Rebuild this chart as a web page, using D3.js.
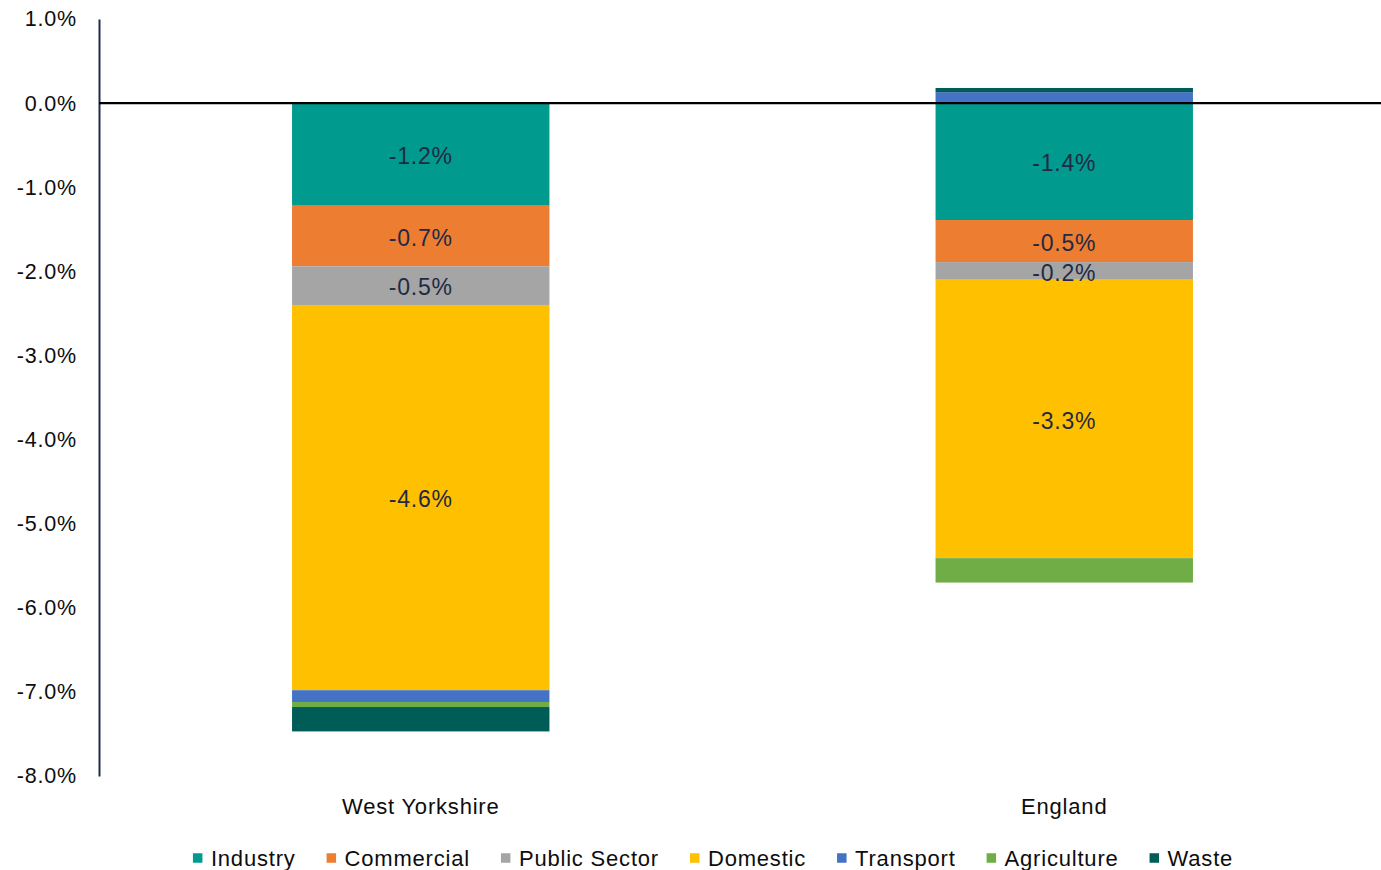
<!DOCTYPE html>
<html>
<head>
<meta charset="utf-8">
<script src="https://cdn.jsdelivr.net/npm/d3@7"></script>
<style>
  html, body { margin: 0; padding: 0; background: #fff; }
  svg text { font-family: "Liberation Sans", Arial, sans-serif; letter-spacing: 0.8px; }
</style>
</head>
<body>
<svg id="chart" width="1381" height="870"></svg>
<script>
// Change in emissions by sector, percentage points
const regions = ["West Yorkshire", "England"];
const sectors = ["Industry", "Commercial", "Public Sector", "Domestic", "Transport", "Agriculture", "Waste"];
const westYorkshire = [-1.22, -0.72, -0.46, -4.58, -0.14, -0.06, -0.29];
const england = [-1.39, -0.50, -0.21, -3.31, 0.13, -0.29, 0.05];
const labelledSectors = ["Industry", "Commercial", "Public Sector", "Domestic"];
const yTicks = [1, 0, -1, -2, -3, -4, -5, -6, -7, -8];
const colors = ["#009a8f", "#ed7d31", "#a5a5a5", "#ffc000", "#4472c4", "#70ad47", "#005c57"];

const svg = d3.select("#chart");
const margin = { left: 99, right: 0, top: 19, bottom: 94 };
const W = 1381, H = 870;

const y = d3.scaleLinear().domain([-8, 1]).range([776, 19]);
const x = d3.scaleBand().domain(regions).range([99, 1386]).paddingInner(0.6).paddingOuter(0.3);
const color = d3.scaleOrdinal().domain(sectors).range(colors);

const valuesByRegion = { "West Yorkshire": westYorkshire, "England": england };

// Stack positives upward and negatives downward from zero, in sector order
const segments = [];
regions.forEach(r => {
  let pos = 0, neg = 0;
  valuesByRegion[r].forEach((v, i) => {
    let y0, y1;
    if (v >= 0) { y0 = pos; y1 = pos + v; pos = y1; }
    else { y0 = neg; y1 = neg + v; neg = y1; }
    segments.push({ region: r, sector: sectors[i], value: v, y0, y1 });
  });
});

// Y axis
const yAxis = d3.axisLeft(y).tickValues(yTicks).tickSize(0).tickPadding(22)
  .tickFormat(d => d3.format(".1f")(d).replace("−", "-") + "%");
const gy = svg.append("g").attr("transform", `translate(${margin.left},0)`).call(yAxis);
gy.select(".domain").attr("stroke", "#1f2d4a").attr("stroke-width", 2);
gy.selectAll("text").attr("font-size", "21.5px").attr("fill", "#0d0d0d")
  .attr("font-family", "'Liberation Sans', Arial, sans-serif");

// Bars
svg.append("g").selectAll("rect").data(segments).join("rect")
  .attr("x", d => x(d.region))
  .attr("width", x.bandwidth())
  .attr("y", d => y(Math.max(d.y0, d.y1)))
  .attr("height", d => Math.abs(y(d.y0) - y(d.y1)))
  .attr("fill", d => color(d.sector));

// Segment value labels
svg.append("g").selectAll("text")
  .data(segments.filter(d => labelledSectors.includes(d.sector)))
  .join("text")
  .attr("x", d => x(d.region) + x.bandwidth() / 2)
  .attr("y", d => y((d.y0 + d.y1) / 2))
  .attr("dy", "0.42em")
  .attr("text-anchor", "middle")
  .attr("font-size", "23px")
  .attr("fill", "#1f2a44")
  .text(d => d3.format(".1f")(d.value).replace("−", "-") + "%");

// Zero line
svg.append("line")
  .attr("x1", margin.left).attr("x2", W)
  .attr("y1", y(0)).attr("y2", y(0))
  .attr("stroke", "#000").attr("stroke-width", 2.2);

// Category labels
svg.append("g").selectAll("text").data(regions).join("text")
  .attr("x", d => x(d) + x.bandwidth() / 2)
  .attr("y", 806)
  .attr("dy", "0.36em")
  .attr("text-anchor", "middle")
  .attr("font-size", "22px")
  .attr("letter-spacing", "1.1px")
  .attr("fill", "#0d0d0d")
  .text(d => d);

// Legend
const legend = svg.append("g");
const items = legend.selectAll("g").data(sectors).join("g");
items.append("rect").attr("width", 9.5).attr("height", 9.5).attr("y", -4.75)
  .attr("fill", d => color(d));
items.append("text").attr("x", 18).attr("dy", "0.36em")
  .attr("font-size", "22px").attr("fill", "#0d0d0d").text(d => d);
let cx = 0;
const offsets = [];
items.each(function () {
  offsets.push(cx);
  const w = d3.select(this).select("text").node().getComputedTextLength();
  cx += 18 + w + 31;
});
const total = cx - 31;
const startX = 713 - total / 2;
items.attr("transform", (d, i) => `translate(${startX + offsets[i]},858)`);
</script>
</body>
</html>
